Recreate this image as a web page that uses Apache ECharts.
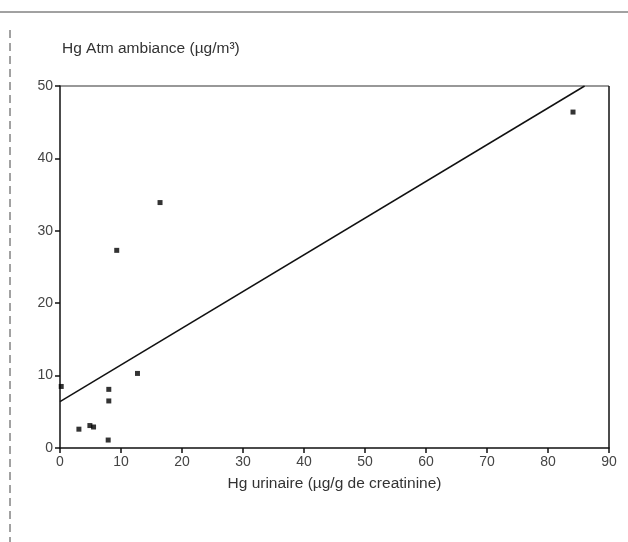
<!DOCTYPE html>
<html>
<head>
<meta charset="utf-8">
<script src="https://cdn.jsdelivr.net/npm/echarts@6/dist/echarts.min.js"></script>
<style>
  html, body { margin: 0; padding: 0; background: #fff; }
  #chart { width: 628px; height: 542px; }
</style>
</head>
<body>
<div id="chart"></div>
<script>
// measured points: urinary Hg (x) vs ambient Hg (y)
var urinaryHg = [0.2, 3.1, 4.9, 5.5, 8.0, 8.0, 7.9, 12.7, 9.3, 16.4, 84.1];
var ambientHg = [8.5, 2.6, 3.1, 2.9, 8.1, 6.5, 1.1, 10.3, 27.3, 33.9, 46.4];
// regression line end points
var fitX = [0, 86];
var fitY = [6.4, 50];

var points = [];
for (var i = 0; i < urinaryHg.length; i++) {
    points.push([urinaryHg[i], ambientHg[i]]);
}
var fitLine = [];
for (var j = 0; j < fitX.length; j++) {
    fitLine.push([fitX[j], fitY[j]]);
}

var myChart = echarts.init(document.getElementById('chart'));

var option = {
    backgroundColor: '#fff',
    animation: false,
    textStyle: { fontFamily: 'Liberation Sans, Arial, sans-serif' },
    grid: { left: 60, right: 19, top: 86, bottom: 94 },
    xAxis: {
        type: 'value',
        min: 0, max: 90, interval: 10,
        name: 'Hg urinaire (µg/g de creatinine)',
        nameLocation: 'middle',
        nameGap: 28,
        nameTextStyle: { color: '#333', fontSize: 15.5 },
        axisLine: { show: true, lineStyle: { color: '#111', width: 1.5 } },
        axisTick: { show: true, length: 5, lineStyle: { color: '#111', width: 1.5 } },
        axisLabel: { color: '#444', fontSize: 14, margin: 7 },
        splitLine: { show: false }
    },
    yAxis: {
        type: 'value',
        min: 0, max: 50, interval: 10,
        name: 'Hg Atm ambiance (µg/m³)',
        nameLocation: 'end',
        nameGap: 29,
        nameTextStyle: { color: '#333', fontSize: 15.5, align: 'left', padding: [0, 0, 0, 2] },
        axisLine: { show: true, lineStyle: { color: '#111', width: 1.5 } },
        axisTick: { show: true, length: 5, lineStyle: { color: '#111', width: 1.5 } },
        axisLabel: { color: '#444', fontSize: 14, margin: 7 },
        splitLine: { show: false }
    },
    graphic: [
        // frame: top and right border of the plot area
        { type: 'line', shape: { x1: 60, y1: 86, x2: 609, y2: 86 }, style: { stroke: '#333', lineWidth: 1.2 } },
        { type: 'line', shape: { x1: 609, y1: 86, x2: 609, y2: 448 }, style: { stroke: '#111', lineWidth: 1.5 } },
        // page border lines from the scan
        { type: 'line', shape: { x1: 0, y1: 12, x2: 628, y2: 12 }, style: { stroke: '#444', lineWidth: 1 } },
        { type: 'line', shape: { x1: 10, y1: 30, x2: 10, y2: 542 }, style: { stroke: '#444', lineWidth: 1, lineDash: [8, 5] } }
    ],
    series: [
        {
            name: 'Regression',
            type: 'line',
            data: fitLine,
            showSymbol: false,
            symbol: 'none',
            lineStyle: { color: '#111', width: 1.5 }
        },
        {
            name: 'Mesures',
            type: 'scatter',
            data: points,
            symbol: 'rect',
            symbolSize: 5,
            itemStyle: { color: '#000' }
        }
    ]
};
myChart.setOption(option);
</script>
</body>
</html>
